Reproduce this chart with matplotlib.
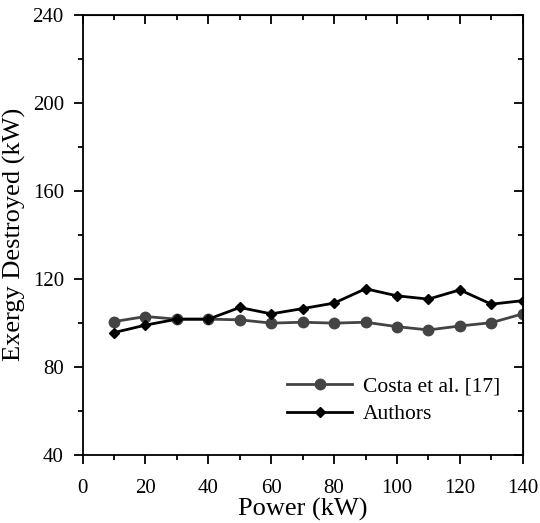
import matplotlib
matplotlib.use("Agg")
import matplotlib.pyplot as plt
from matplotlib.ticker import MultipleLocator

power = [10, 20, 30, 40, 50, 60, 70, 80, 90, 100, 110, 120, 130, 140]
costa = [100.6, 102.9, 101.7, 101.7, 101.4, 99.9, 100.3, 99.9, 100.3, 98.3, 96.8, 98.6, 100.1, 104.1]
authors = [95.6, 99.0, 101.7, 101.7, 107.0, 104.1, 106.5, 109.0, 115.5, 112.3, 110.8, 115.0, 108.5, 110.1]

plt.rcParams['font.family'] = ['Liberation Serif', 'DejaVu Serif']

fig = plt.figure(figsize=(5.4, 5.23), dpi=100)
ax = fig.add_axes([0.153, 0.130, 0.815, 0.842])

ax.plot(power, costa, '-o', color='#444444', lw=2, ms=7.5, label='Costa et al. [17]')
ax.plot(power, authors, '-D', color='black', lw=2, ms=5.5, label='Authors')

ax.set_xlim(0, 140)
ax.set_ylim(40, 240)
ax.xaxis.set_major_locator(MultipleLocator(20))
ax.xaxis.set_minor_locator(MultipleLocator(10))
ax.yaxis.set_major_locator(MultipleLocator(40))
ax.yaxis.set_minor_locator(MultipleLocator(20))

ax.tick_params(which='both', direction='out', top=False, right=False, labelsize=15, width=1.3)
ax.tick_params(which='major', length=6.5)
ax.tick_params(which='minor', length=3.5)
ax.tick_params(axis='x', which='major', pad=10.5)
ax.tick_params(axis='y', which='major', pad=7)
for s in ax.spines.values():
    s.set_linewidth(1.3)

# inward ticks on top and right
sec_x = ax.secondary_xaxis('top')
sec_x.xaxis.set_major_locator(MultipleLocator(20))
sec_x.xaxis.set_minor_locator(MultipleLocator(10))
sec_x.tick_params(which='both', direction='in', labeltop=False, width=1.3)
sec_x.tick_params(which='major', length=6.5)
sec_x.tick_params(which='minor', length=3.5)
sec_y = ax.secondary_yaxis('right')
sec_y.yaxis.set_major_locator(MultipleLocator(40))
sec_y.yaxis.set_minor_locator(MultipleLocator(20))
sec_y.tick_params(which='both', direction='in', labelright=False, width=1.3)
sec_y.tick_params(which='major', length=6.5)
sec_y.tick_params(which='minor', length=3.5)

ax.set_xlabel('Power (kW)', fontsize=19, labelpad=0)
ax.set_ylabel('Exergy Destroyed (kW)', fontsize=19, labelpad=5)

ax.legend(loc='upper left', bbox_to_anchor=(0.465, 0.178), frameon=False, fontsize=15.5,
          handlelength=3.0, handletextpad=0.5, labelspacing=0.35, borderpad=0, borderaxespad=0)

fig.savefig('out.png', dpi=100)
